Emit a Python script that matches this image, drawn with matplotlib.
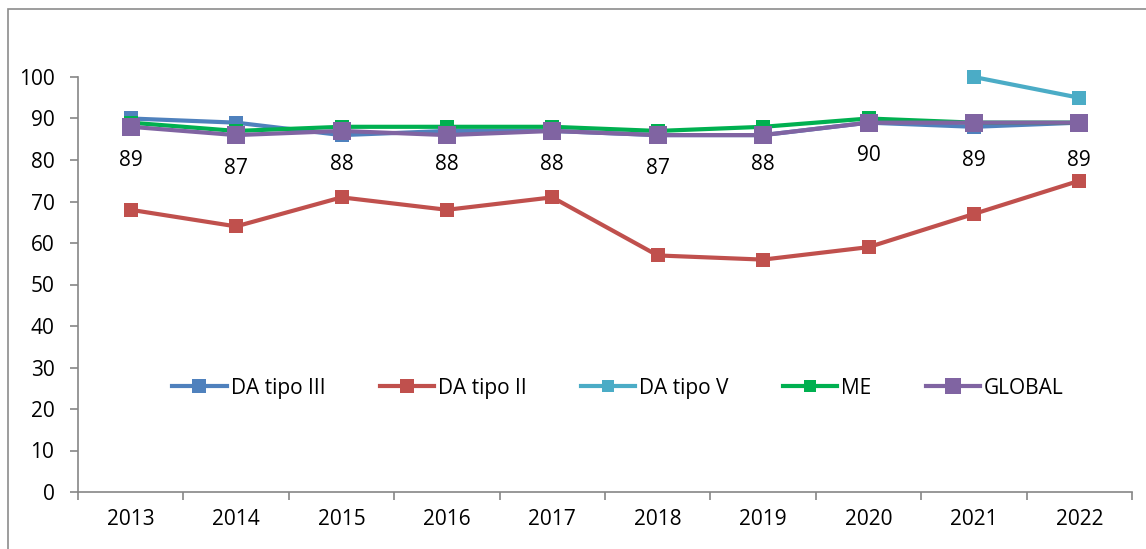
import matplotlib
matplotlib.use("Agg")
import matplotlib.pyplot as plt
from matplotlib.patches import Rectangle
import numpy as np

years = ["2013", "2014", "2015", "2016", "2017", "2018", "2019", "2020", "2021", "2022"]
da_tipo_iii = [90, 89, 86, 87, 87, 86, 86, 89, 88, 89]
da_tipo_ii = [68, 64, 71, 68, 71, 57, 56, 59, 67, 75]
da_tipo_v = [None, None, None, None, None, None, None, None, 100, 95]
me = [89, 87, 88, 88, 88, 87, 88, 90, 89, 89]
global_vals = [88, 86, 87, 86, 87, 86, 86, 89, 89, 89]
labels = ["89", "87", "88", "88", "88", "87", "88", "90", "89", "89"]
y_ticks = [0, 10, 20, 30, 40, 50, 60, 70, 80, 90, 100]

plt.rcParams['font.family'] = ['Open Sans', 'DejaVu Sans']
FS = 15

W, H = 1146, 549
fig = plt.figure(figsize=(W / 100, H / 100), dpi=100)
fig.patches.append(Rectangle((8 / W, -0.1), 1.2, 1.1 - 9 / H, transform=fig.transFigure,
                             fill=False, edgecolor="#8c8c8c", linewidth=1.2))
ax = fig.add_axes([78 / W, 1 - 492 / H, (1132 - 78) / W, (492 - 77) / H])

x = np.arange(len(years))

def to_arr(v):
    return np.array([np.nan if a is None else a for a in v], dtype=float)

series = [
    ("DA tipo III", da_tipo_iii, "#4F81BD", 10.5),
    ("DA tipo II", da_tipo_ii, "#C0504D", 10.5),
    ("DA tipo V", da_tipo_v, "#4BACC6", 10),
    ("ME", me, "#00B050", 10),
    ("GLOBAL", global_vals, "#8064A2", 13),
]
for name, vals, col, ms in series:
    ax.plot(x, to_arr(vals), color=col, lw=3, marker="s", ms=ms,
            markeredgewidth=0, label=name, solid_joinstyle="round", clip_on=False)

for xi, v, t in zip(x, me, labels):
    ax.annotate(t, (xi, v), xytext=(0, -27), textcoords="offset points",
                ha="center", va="center", fontsize=FS)

ax.set_xlim(-0.5, len(years) - 0.5)
ax.set_ylim(0, 100)
ax.set_yticks(y_ticks)
ax.set_yticklabels([str(t) for t in y_ticks], fontsize=FS)
ax.set_xticks(np.arange(-0.5, len(years), 1.0))
ax.set_xticklabels([])
ax.set_xticks(x, minor=True)
ax.set_xticklabels(years, minor=True, fontsize=FS)
ax.tick_params(axis="x", which="major", length=6, width=1.2, color="#868686", direction="out")
ax.tick_params(axis="x", which="minor", length=0, pad=12)
ax.tick_params(axis="y", length=6, width=1.2, color="#868686", direction="out", pad=11)

for s in ["top", "right"]:
    ax.spines[s].set_visible(False)
for s in ["left", "bottom"]:
    ax.spines[s].set_color("#868686")
    ax.spines[s].set_linewidth(1.2)

leg = ax.legend(loc="center", bbox_to_anchor=((618 - 78) / (1132 - 78), 0.25),
                ncol=5, frameon=False, fontsize=FS, handlelength=2.6,
                handletextpad=0.2, columnspacing=2.6, markerscale=0.9)

fig.savefig("out.png", dpi=100)
